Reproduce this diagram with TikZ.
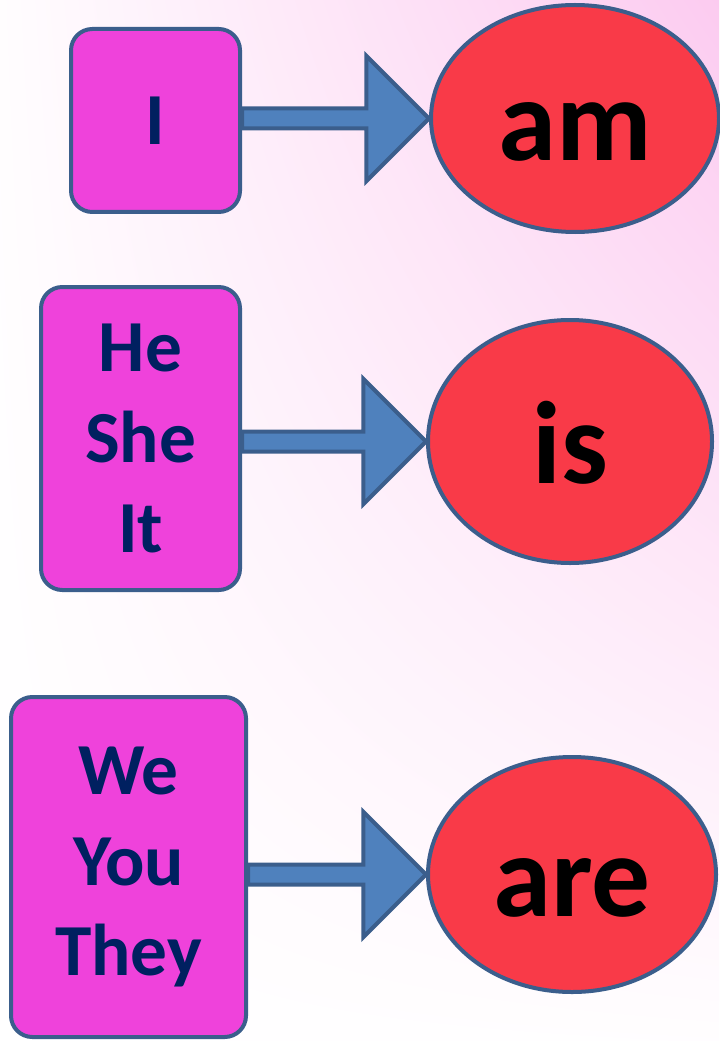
\documentclass[tikz,border=0pt]{standalone}
\usepackage{fontspec}
\setmainfont{Carlito}
\usetikzlibrary{calc}
\usetikzlibrary{shapes, shadings, positioning}
\definecolor{pinkbox}{HTML}{EF42DB}
\definecolor{edgeblue}{HTML}{3B5E8C}
\definecolor{arrowblue}{HTML}{4F81BD}
\definecolor{verbred}{HTML}{F93A48}
\definecolor{navytext}{HTML}{002060}
\definecolor{bgpink}{HTML}{FCCBF0}
\tikzset{>=stealth}
\tikzset{
  pron/.style={draw=edgeblue, line width=3pt, fill=pinkbox, rounded corners=16pt,
    text=navytext, align=center, inner sep=0pt,
    font=\bfseries\fontsize{55}{68}\selectfont},
  verb/.style={ellipse, draw=edgeblue, line width=3pt, fill=verbred, inner sep=0pt,
    text height=63pt, text depth=0pt,
    font=\bfseries\fontsize{88}{95}\selectfont},
  fatarrow/.style={draw=edgeblue, line width=3pt, fill=arrowblue, line join=miter}
}
% fat block arrow from a box to an ellipse
\newcommand{\blockarrow}[2]{%
  \draw[fatarrow] let \p1=(#1.east), \p2=(#2.west) in
    (\x1,\y2+7.5pt) -- (\x2-47pt,\y2+7.5pt) -- (\x2-47pt,\y2+47pt) -- (\x2,\y2)
    -- (\x2-47pt,\y2-47pt) -- (\x2-47pt,\y2-7.5pt) -- (\x1,\y2-7.5pt) -- cycle;}

\begin{document}
\begin{tikzpicture}[x=0.75pt, y=-0.75pt]
        \shade[upper right=bgpink, upper left=white!96!bgpink, lower right=white!97!bgpink,
          lower left=white] (0, 0) rectangle (719, 1041);
        \useasboundingbox (0, 0) rectangle (719, 1041);
        % subjects
        \node[pron, minimum width=126.75pt, minimum height=137.25pt] (i) at (155.5, 120.5) {I};
        \node[pron, minimum width=149.25pt, minimum height=227.25pt] (he) at (140.5, 438.5) {He\\She\\It};
        \node[pron, minimum width=176.25pt, minimum height=255pt] (we) at (128.5, 867) {We\\You\\They};
        % verbs
        \node[verb, minimum width=216pt, minimum height=170.25pt] (am) at (575, 118.5) {am};
        \node[verb, minimum width=213pt, minimum height=182.25pt] (is) at (570, 441.5) {is};
        \node[verb, minimum width=216pt, minimum height=176.25pt] (are) at (572, 874.5) {are};
        \blockarrow{i}{am}
        \blockarrow{he}{is}
        \blockarrow{we}{are}
      \end{tikzpicture}
\end{document}
